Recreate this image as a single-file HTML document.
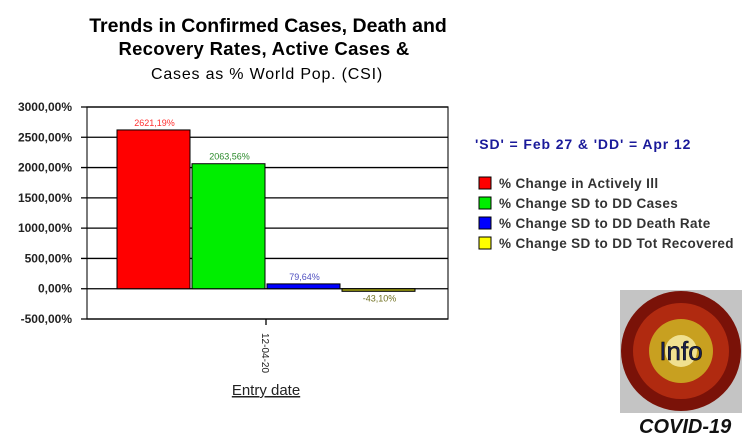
<!DOCTYPE html>
<html><head><meta charset="utf-8"><style>
body{margin:0;width:748px;height:440px;background:#fff;overflow:hidden;font-family:"Liberation Sans",Arial,sans-serif}
</style></head><body>
<svg width="748" height="440" xmlns="http://www.w3.org/2000/svg" id="svg">
<text x="268" y="32" text-anchor="middle" font-size="19.5" font-weight="bold" fill="#000">Trends in Confirmed Cases, Death and</text>
<text x="264" y="55" text-anchor="middle" font-size="18.5" font-weight="bold" fill="#000" letter-spacing="0.3">Recovery Rates, Active Cases &amp;</text>
<text x="267" y="79" text-anchor="middle" font-size="16" fill="#000" letter-spacing="0.8">Cases as % World Pop. (CSI)</text>
<g id="plot"></g>
<text x="266" y="395" text-anchor="middle" font-size="15" fill="#222" text-decoration="underline">Entry date</text>
<text x="475" y="149" font-size="14" font-weight="bold" fill="#1a1a9a" letter-spacing="0.9">'SD' = Feb 27 &amp; 'DD' = Apr 12</text>
<g id="legend"></g>
<g>
<rect x="620" y="290" width="122" height="123" fill="#c4c4c4"/>
<circle cx="681" cy="351" r="60" fill="#7a1208"/>
<circle cx="681" cy="351" r="48" fill="#b02a10"/>
<circle cx="681" cy="351" r="32" fill="#c8a020"/>
<circle cx="681" cy="351" r="16" fill="#f0e090"/>
<text x="681" y="360" text-anchor="middle" font-size="26" fill="#1a2050" stroke="#000" stroke-width="0.5">Info</text>
</g>
<text x="639" y="433" font-size="20" font-weight="bold" font-style="italic" fill="#111">COVID-19</text>
</svg>
<script>
const categories=["12-04-20"];
const seriesNames=["% Change in Actively Ill","% Change SD to DD Cases","% Change SD to DD Death Rate","% Change SD to DD Tot Recovered"];
const seriesValues=[2621.19,2063.56,79.64,-43.10];
const valueLabels=["2621,19%","2063,56%","79,64%","-43,10%"];
const yTicks=[3000,2500,2000,1500,1000,500,0,-500];
const yTickLabels=["3000,00%","2500,00%","2000,00%","1500,00%","1000,00%","500,00%","0,00%","-500,00%"];
const colors=["#ff0000","#00ee00","#0000ff","#9a9a10"];
const boxColors=["#ff0000","#00ee00","#0000ff","#ffff00"];
const labelColors=["#ff3030","#2a8a2a","#5050c0","#707020"];
const NS="http://www.w3.org/2000/svg";
const L=87,R=448,T=107,B=319,ymin=-500,ymax=3000;
const y=v=>T+(ymax-v)/(ymax-ymin)*(B-T);
const plot=document.getElementById('plot');
function mk(t,a,p){const e=document.createElementNS(NS,t);for(const k in a)e.setAttribute(k,a[k]);(p||plot).appendChild(e);return e;}
let bg=mk('rect',{x:L,y:T,width:R-L,height:B-T,fill:'#fff',stroke:'#333','stroke-width':1.3});


yTicks.forEach((v,i)=>{
 let g=mk('line',{x1:L-6,x2:R,y1:y(v),y2:y(v),stroke:'#000','stroke-width':1.3});
 
 
 let t=mk('text',{x:72,y:y(v)+4,'text-anchor':'end','font-size':12,'font-weight':'bold',fill:'#222'});
 t.textContent=yTickLabels[i];
 
 
});
const groupW=300,cx=266,bw=groupW/seriesValues.length;
seriesValues.forEach((v,i)=>{
 const x0=cx-groupW/2+i*bw+1;
 const y0=y(Math.max(v,0)),y1=y(Math.min(v,0));
 let r=mk('rect',{x:x0,y:y0,width:bw-2,height:Math.max(y1-y0,1),fill:colors[i],stroke:'#000','stroke-width':1});
 
 
 let t=mk('text',{x:x0+bw/2,y:v>=0?y0-4:y1+10,'text-anchor':'middle','font-size':9,fill:labelColors[i]});
 t.textContent=valueLabels[i];
 
 
});
mk('line',{x1:cx,x2:cx,y1:B,y2:B+6,stroke:'#000','stroke-width':1.3});
let xl=mk('text',{x:0,y:0,'font-size':10,fill:'#222',transform:`translate(${cx-4},333) rotate(90)`});
xl.textContent=categories[0];


const lg=document.getElementById('legend');
seriesNames.forEach((n,i)=>{
 const yy=177+i*20;
 let b=mk('rect',{x:479,y:yy,width:12,height:12,fill:boxColors[i],stroke:'#000','stroke-width':1},lg);
 
 
 let t=mk('text',{x:499,y:yy+11,'font-size':13.5,'font-weight':'bold',fill:'#333','letter-spacing':0.35},lg);
 t.textContent=n;
 
 
});
</script>
</body></html>
